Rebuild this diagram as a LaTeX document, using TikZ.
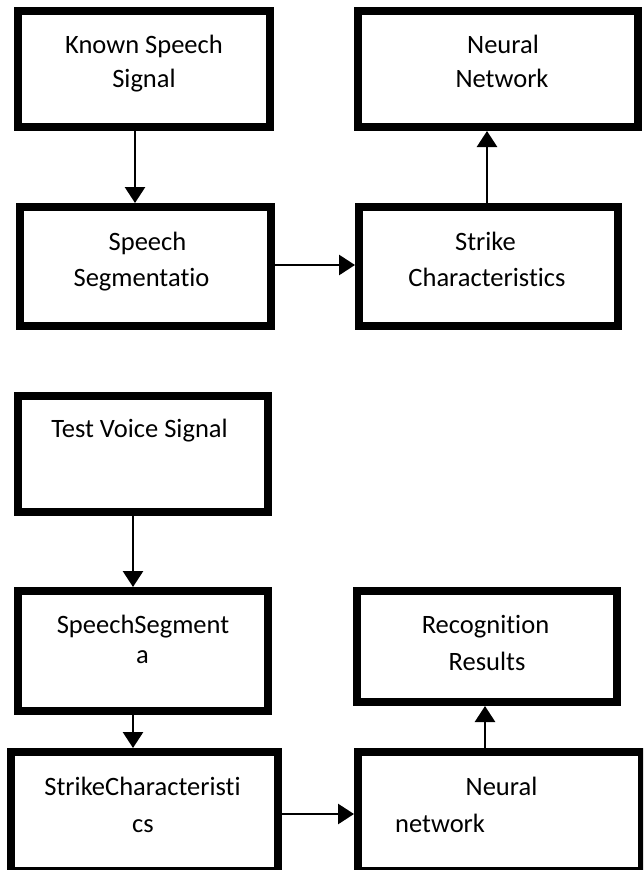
\documentclass[tikz,border=0pt]{standalone}
\usepackage{fontspec}
\setmainfont{Carlito}[Ligatures={NoCommon,NoContextual}]
\usetikzlibrary{arrows.meta}
\begin{document}
\begin{tikzpicture}[x=1pt,y=-1pt,
  box/.style={draw=black, line width=8pt, fill=white, inner sep=0pt},
  txt/.style={inner sep=0pt, anchor=base, font=\fontsize{26.5}{32}\selectfont, text=black},
  arr/.style={line width=2.8pt, -{Triangle[width=20pt,length=16pt]}}]
\useasboundingbox (0,0) rectangle (643,870);
\clip (0,0) rectangle (643,870);
% boxes
\node[box, minimum width=252pt, minimum height=116pt] (b1) at (144,69) {};
\node[box, minimum width=280pt, minimum height=116pt] (b2) at (498,69) {};
\node[box, minimum width=251pt, minimum height=119pt] (b3) at (145.5,266.5) {};
\node[box, minimum width=259pt, minimum height=119pt] (b4) at (488.5,266.5) {};
\node[box, minimum width=250pt, minimum height=116pt] (b5) at (143,454) {};
\node[box, minimum width=250pt, minimum height=120pt] (b6) at (143,651) {};
\node[box, minimum width=260pt, minimum height=111pt] (b7) at (487,646.5) {};
\node[box, minimum width=267pt, minimum height=119pt] (b8) at (144.5,811.5) {};
\node[box, minimum width=284pt, minimum height=119pt] (b9) at (500,811.5) {};
% texts
\node[txt] (t1a) at (144,53) {Known Speech};
\node[txt] (t1b) at (144,87) {Signal};
\node[txt] (t2a) at (503,53) {Neural};
\node[txt] (t2b) at (502,87) {Network};
\node[txt] (t3a) at (147.5,250) {Speech};
\node[txt] (t3b) at (141.5,286) {Segmentatio};
\node[txt] (t4a) at (485.5,250) {Strike};
\node[txt] (t4b) at (487,286) {Characteristics};
\node[txt] (t5) at (139.5,437) {Test Voice Signal};
\node[txt] (t6a) at (143,633) {SpeechSegment};
\node[txt] (t6b) at (142.5,663) {a};
\node[txt] (t7a) at (485.5,633) {Recognition};
\node[txt] (t7b) at (487,670) {Results};
\node[txt] (t8a) at (142.5,795) {StrikeCharacteristi};
\node[txt] (t8b) at (143,832) {cs};
\node[txt] (t9a) at (501.5,795) {Neural};
\node[txt, anchor=base west] (t9b) at (395,832) {network};
% connector guides
\coordinate (xA) at (135,0);
\coordinate (xB) at (487,0);
\coordinate (xC) at (133,0);
\coordinate (xD) at (485,0);
\coordinate (yA) at (0,265);
\coordinate (yB) at (0,814);
% connectors
\draw[arr] (b1.south -| xA) -- (b3.north -| xA);
\draw[arr] (b3.east |- yA) -- (b4.west |- yA);
\draw[arr] (b4.north -| xB) -- (b2.south -| xB);
\draw[arr] (b5.south -| xC) -- (b6.north -| xC);
\draw[arr] (b6.south -| xC) -- (b8.north -| xC);
\draw[arr] (b8.east |- yB) -- (b9.west |- yB);
\draw[arr] (b9.north -| xD) -- (b7.south -| xD);
\end{tikzpicture}
\end{document}
